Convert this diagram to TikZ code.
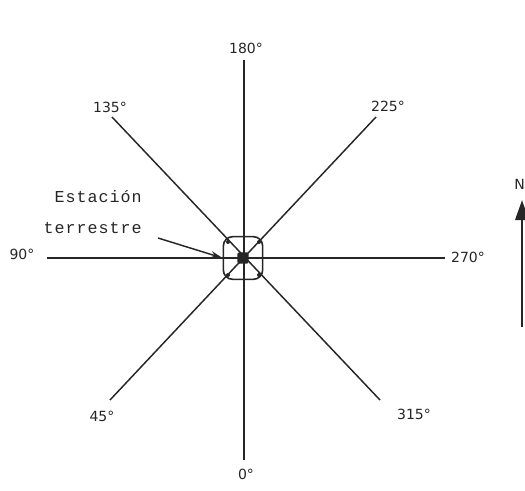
\documentclass[tikz,border=0pt]{standalone}
\usepackage{fontspec}
\newfontfamily\labfont{DejaVu Sans}
\newfontfamily\typfont[LetterSpace=6]{Liberation Mono}
\usetikzlibrary{arrows.meta}
\begin{document}
\begin{tikzpicture}[x=0.75pt,y=-0.75pt,
  ray/.style={line width=1.1pt, draw=black!85},
  lab/.style={font=\labfont\fontsize{10.5}{12}\selectfont, text=black!85, inner sep=0pt},
  typ/.style={font=\typfont\fontsize{12.5}{14}\selectfont, text=black!85, inner sep=0pt},
  cdot/.style={circle, fill=black!85, inner sep=0pt, minimum size=3pt}]
\useasboundingbox (0,0) rectangle (525,490);
% end points
\coordinate (n) at (244,60);
\coordinate (s) at (244,460);
\coordinate (w) at (47,258);
\coordinate (e) at (445,258);
\coordinate (nw) at (112,117);
\coordinate (ne) at (376,117);
\coordinate (sw) at (110,400);
\coordinate (se) at (380,400);
\draw[ray] (n) -- (s);
\draw[ray] (w) -- (e);
\draw[ray] (nw) -- (se);
\draw[ray] (ne) -- (sw);
% station
\node[draw=black!85, line width=1.2pt, rounded corners=7pt, minimum width=29.5pt, minimum height=32pt, inner sep=0pt] (st) at (243,258) {};
\node[fill=black!85, rounded corners=1.5pt, minimum size=8.5pt, inner sep=0pt] (core) at (243,258) {};
\node[cdot] (c1) at (228,242) {};
\node[cdot] (c2) at (259,242) {};
\node[cdot] (c3) at (228,275) {};
\node[cdot] (c4) at (259,275) {};
% labels
\node[lab] (l180) at (246,48) {180°};
\node[lab] (l135) at (110,107) {135°};
\node[lab] (l225) at (388,106) {225°};
\node[lab] (l90) at (22,254) {90°};
\node[lab] (l270) at (468,257) {270°};
\node[lab] (l45) at (102,416) {45°};
\node[lab] (l315) at (414,414) {315°};
\node[lab] (l0) at (246,474) {0°};
% annotation
\node[typ, anchor=base east] (est1) at (142,202) {Estación};
\node[typ, anchor=base east] (est2) at (142,233) {terrestre};
\coordinate (arrs) at (158,238);
\draw[line width=1.1pt, draw=black!85, -{Stealth[length=9pt,width=5pt]}] (arrs) -- (st.west);
% north arrow
\coordinate (nb) at (522,327);
\coordinate (nt) at (522,200);
\draw[line width=1.8pt, draw=black!85, -{Triangle[length=15pt,width=10pt]}] (nb) -- (nt);
\node[lab, anchor=south east] (north) at (525,190) {N};
\end{tikzpicture}
\end{document}
